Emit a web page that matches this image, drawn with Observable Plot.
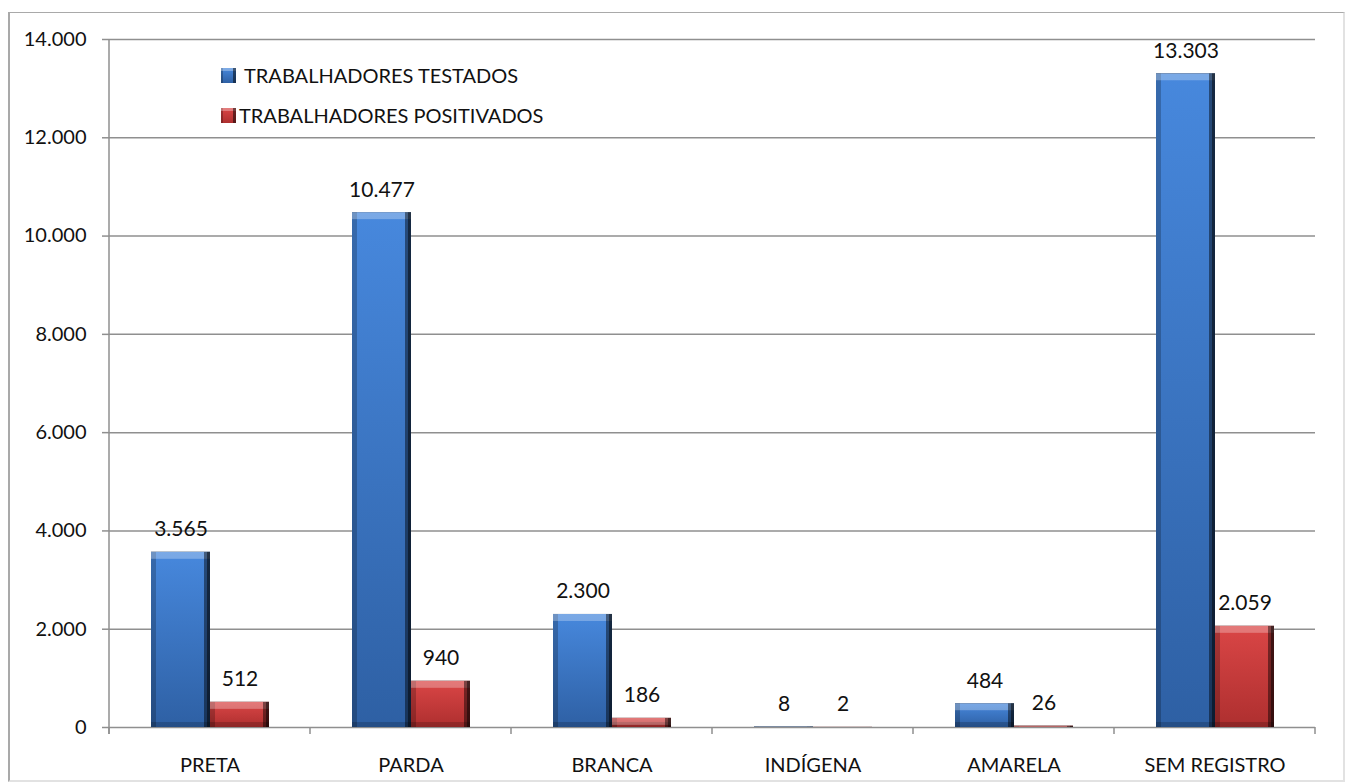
<!DOCTYPE html>
<html lang="pt-BR">
<head>
<meta charset="utf-8">
<script src="https://cdn.jsdelivr.net/npm/d3@7"></script>
<script src="https://cdn.jsdelivr.net/npm/@observablehq/plot@0.6"></script>
<style>
  html, body { margin: 0; padding: 0; background: #fff; }
  #wrap { position: relative; width: 1350px; height: 783px; overflow: hidden; font-family: Lato, "Open Sans", sans-serif; }
  #border { position: absolute; left: 8px; top: 12px; width: 1333px; height: 767px;
            border-left: 2px solid #a9a9a9; border-top: 1px solid #a9a9a9;
            border-right: 2px solid #e2e2e2; border-bottom: 2px solid #e2e2e2; pointer-events: none; }
  #chart { position: absolute; left: 0; top: 0; }
  .legend { position: absolute; left: 221px; font-size: 20px; color: #111; display: flex; align-items: center; white-space: nowrap; }
  .legend svg { display: block; }
</style>
</head>
<body>
<!-- shared paint servers and bevel filters for the bars -->
<svg width="0" height="0" style="position:absolute">
  <defs>
    <linearGradient id="g-testados" x1="0" y1="0" x2="0" y2="1">
      <stop offset="0" stop-color="#4788dd"/>
      <stop offset="1" stop-color="#2e60a4"/>
    </linearGradient>
    <linearGradient id="g-positivados" x1="0" y1="0" x2="0" y2="1">
      <stop offset="0" stop-color="#da4646"/>
      <stop offset="1" stop-color="#ae2f2f"/>
    </linearGradient>
    <filter id="bevel" x="-5%" y="-5%" width="110%" height="110%" color-interpolation-filters="sRGB">
      <feOffset in="SourceAlpha" dy="7" result="sTop"/>
      <feComposite in="SourceAlpha" in2="sTop" operator="out" result="topEdge"/>
      <feFlood flood-color="#ffffff" flood-opacity="0.28"/>
      <feComposite in2="topEdge" operator="in" result="topLight"/>
      <feOffset in="SourceAlpha" dx="-6" result="sRight"/>
      <feComposite in="SourceAlpha" in2="sRight" operator="out" result="rightEdge"/>
      <feFlood flood-color="#000000" flood-opacity="0.45"/>
      <feComposite in2="rightEdge" operator="in" result="rightDark"/>
      <feOffset in="SourceAlpha" dx="-3" result="sRight2"/>
      <feComposite in="SourceAlpha" in2="sRight2" operator="out" result="rightEdge2"/>
      <feFlood flood-color="#000000" flood-opacity="0.45"/>
      <feComposite in2="rightEdge2" operator="in" result="rightDarker"/>
      <feOffset in="SourceAlpha" dx="5" result="sLeft"/>
      <feComposite in="SourceAlpha" in2="sLeft" operator="out" result="leftEdge"/>
      <feFlood flood-color="#000000" flood-opacity="0.22"/>
      <feComposite in2="leftEdge" operator="in" result="leftDark"/>
      <feOffset in="SourceAlpha" dy="-5" result="sBottom"/>
      <feComposite in="SourceAlpha" in2="sBottom" operator="out" result="bottomEdge"/>
      <feFlood flood-color="#000000" flood-opacity="0.18"/>
      <feComposite in2="bottomEdge" operator="in" result="bottomDark"/>
      <feMerge>
        <feMergeNode in="SourceGraphic"/>
        <feMergeNode in="leftDark"/>
        <feMergeNode in="bottomDark"/>
        <feMergeNode in="topLight"/>
        <feMergeNode in="rightDark"/>
        <feMergeNode in="rightDarker"/>
      </feMerge>
    </filter>
    <filter id="bevel-small" x="-10%" y="-10%" width="120%" height="120%" color-interpolation-filters="sRGB">
      <feOffset in="SourceAlpha" dy="3" result="sTop"/>
      <feComposite in="SourceAlpha" in2="sTop" operator="out" result="topEdge"/>
      <feFlood flood-color="#ffffff" flood-opacity="0.3"/>
      <feComposite in2="topEdge" operator="in" result="topLight"/>
      <feOffset in="SourceAlpha" dx="-3" result="sRight"/>
      <feComposite in="SourceAlpha" in2="sRight" operator="out" result="rightEdge"/>
      <feFlood flood-color="#000000" flood-opacity="0.5"/>
      <feComposite in2="rightEdge" operator="in" result="rightDark"/>
      <feOffset in="SourceAlpha" dx="2" result="sLeft"/>
      <feComposite in="SourceAlpha" in2="sLeft" operator="out" result="leftEdge"/>
      <feFlood flood-color="#000000" flood-opacity="0.25"/>
      <feComposite in2="leftEdge" operator="in" result="leftDark"/>
      <feMerge>
        <feMergeNode in="SourceGraphic"/>
        <feMergeNode in="leftDark"/>
        <feMergeNode in="topLight"/>
        <feMergeNode in="rightDark"/>
      </feMerge>
    </filter>
  </defs>
</svg>

<div id="wrap">
  <div id="chart"></div>
  <div class="legend" style="top:63px">
    <svg width="15" height="15"><rect width="15" height="15" fill="url(#g-testados)" filter="url(#bevel-small)"/></svg>
    <span style="margin-left:8px">TRABALHADORES TESTADOS</span>
  </div>
  <div class="legend" style="top:103px">
    <svg width="15" height="15"><rect width="15" height="15" fill="url(#g-positivados)" filter="url(#bevel-small)"/></svg>
    <span style="margin-left:3px">TRABALHADORES POSITIVADOS</span>
  </div>
  <div id="border"></div>
</div>

<script>
// Trabalhadores testados e positivados por raça/cor
const categories = ["PRETA", "PARDA", "BRANCA", "INDÍGENA", "AMARELA", "SEM REGISTRO"];
const series = ["TRABALHADORES TESTADOS", "TRABALHADORES POSITIVADOS"];
const testados = [3565, 10477, 2300, 8, 484, 13303];
const positivados = [512, 940, 186, 2, 26, 2059];
const yTicks = [0, 2000, 4000, 6000, 8000, 10000, 12000, 14000];

const ptBR = d3.formatLocale({decimal: ",", thousands: ".", grouping: [3], currency: ["R$", ""]});
const fmt = ptBR.format(",d");

const rows = categories.flatMap((cat, i) => [
  {cat, serie: series[0], value: testados[i]},
  {cat, serie: series[1], value: positivados[i]}
]);

const chart = Plot.plot({
  width: 1350,
  height: 783,
  marginLeft: 108,
  marginRight: 34,
  marginTop: 39,
  marginBottom: 56,
  style: {fontFamily: "Lato, 'Open Sans', sans-serif", background: "transparent", color: "#111"},
  fx: {domain: categories, padding: 0, label: null},
  x: {domain: series, paddingInner: 0, paddingOuter: 0.69, axis: null},
  y: {domain: [0, 14000], label: null},
  marks: [
    Plot.gridY(yTicks, {stroke: "#8f8f8f", strokeOpacity: 1, strokeWidth: 1.5}),
    Plot.barY(rows.filter(d => d.serie === series[0]), {fx: "cat", x: "serie", y: "value", fill: "url(#g-testados)"}),
    Plot.barY(rows.filter(d => d.serie === series[1]), {fx: "cat", x: "serie", y: "value", fill: "url(#g-positivados)"}),
    Plot.text(rows, {fx: "cat", x: "serie", y: "value", text: d => fmt(d.value), lineAnchor: "bottom", dy: -16, fontSize: 21, fill: "#111"}),
    Plot.axisY({ticks: yTicks, tickFormat: fmt, tickSize: 7, tickPadding: 16, stroke: "#8f8f8f", strokeWidth: 1.5, strokeOpacity: 1, fontSize: 20, fill: "#111"}),
    Plot.axisFx({anchor: "bottom", tickSize: 0, tickPadding: 30, fontSize: 20, fill: "#111", label: null})
  ]
});

document.getElementById("chart").appendChild(chart);

// bevelled bar look
chart.querySelectorAll('g[aria-label="bar"] rect').forEach(r => r.setAttribute("filter", "url(#bevel)"));

// y axis line and category boundary ticks, placed from the chart's own scales
const fx = chart.scale("fx");
const y = chart.scale("y");
const y0 = y.apply(0), yTop = y.apply(14000);
const left = fx.apply(categories[0]);
const bounds = categories.map(c => fx.apply(c)).concat(fx.apply(categories[categories.length - 1]) + fx.bandwidth);
const deco = d3.select(chart).append("g").attr("stroke", "#8f8f8f").attr("stroke-width", 1.5);
deco.append("line").attr("x1", left).attr("x2", left).attr("y1", yTop).attr("y2", y0 + 7);
deco.selectAll("line.tick").data(bounds).join("line").attr("class", "tick")
  .attr("x1", d => d).attr("x2", d => d).attr("y1", y0).attr("y2", y0 + 7);
</script>
</body>
</html>
